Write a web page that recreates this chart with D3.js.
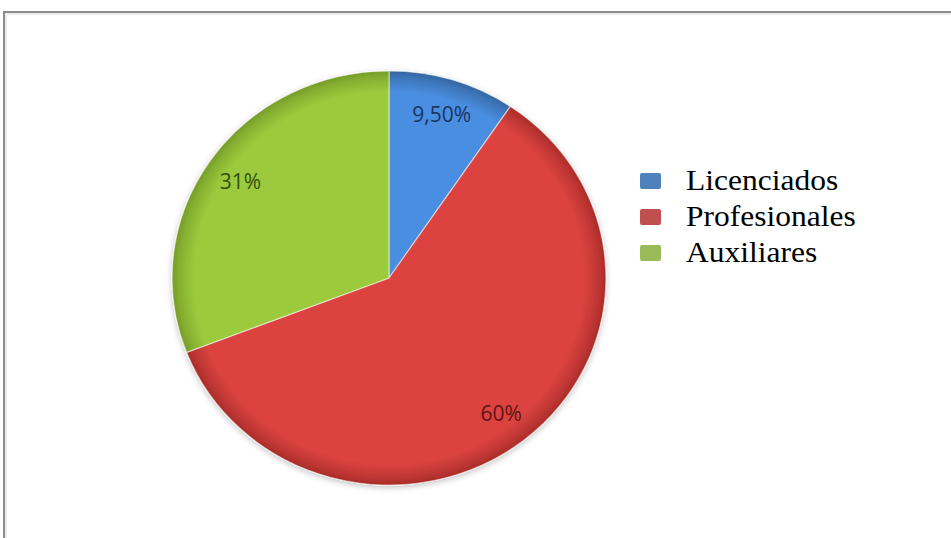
<!DOCTYPE html>
<html>
<head>
<meta charset="utf-8">
<script src="https://cdn.jsdelivr.net/npm/d3@7/dist/d3.min.js"></script>
<style>
  html, body { margin: 0; padding: 0; background: #fff; }
  svg { display: block; }
</style>
</head>
<body>
<svg id="chart" width="951" height="538"></svg>
<script>
// ---- data ----
const categories = ["Licenciados", "Profesionales", "Auxiliares"];
const values = [9.5, 60, 31];
const valueLabels = ["9,50%", "60%", "31%"];
const sliceColors = ["#4a8ee0", "#db4340", "#9bca3c"];
const sliceEdge = ["#35659f", "#a82b28", "#769c28"];
const legendColors = ["#4f81bd", "#c0504d", "#9bbb59"];
const labelColors = ["#1a3560", "#5e1614", "#34500f"];

const svg = d3.select("#chart");
const W = 951, H = 538;

// frame
svg.append("rect").attr("x", 4).attr("y", 12).attr("width", W + 10).attr("height", H + 10)
  .attr("fill", "#fff").attr("stroke", "#8c8c8c").attr("stroke-width", 2);
svg.append("rect").attr("x", 6).attr("y", 14).attr("width", W + 10).attr("height", H + 10)
  .attr("fill", "none").attr("stroke", "#ececec").attr("stroke-width", 2);

const cx = 389, cy = 278, R = 207, sx = 1.048;

const defs = svg.append("defs");
sliceColors.forEach((c, i) => {
  const g = defs.append("radialGradient").attr("id", "grad" + i)
    .attr("gradientUnits", "userSpaceOnUse").attr("cx", 0).attr("cy", 0).attr("r", R);
  g.append("stop").attr("offset", "0%").attr("stop-color", c);
  g.append("stop").attr("offset", "90%").attr("stop-color", c);
  g.append("stop").attr("offset", "97%").attr("stop-color", d3.interpolateRgb(c, sliceEdge[i])(0.6));
  g.append("stop").attr("offset", "100%").attr("stop-color", sliceEdge[i]);
});
const f = defs.append("filter").attr("id", "shadow").attr("x", "-20%").attr("y", "-20%").attr("width", "140%").attr("height", "140%");
f.append("feGaussianBlur").attr("in", "SourceAlpha").attr("stdDeviation", 3);
f.append("feOffset").attr("dx", 0).attr("dy", 2).attr("result", "b");
f.append("feComponentTransfer").append("feFuncA").attr("type", "linear").attr("slope", 0.25);
const fm = f.append("feMerge");
fm.append("feMergeNode");
fm.append("feMergeNode").attr("in", "SourceGraphic");

const pie = d3.pie().sort(null).value(d => d);
const arcs = pie(values);
const arc = d3.arc().innerRadius(0).outerRadius(R);
const labelArc = d3.arc().innerRadius(172).outerRadius(172);

const g = svg.append("g").attr("transform", `translate(${cx},${cy}) scale(${sx},1)`);
g.append("g").attr("filter", "url(#shadow)")
  .selectAll("path").data(arcs).enter().append("path")
  .attr("d", arc)
  .attr("fill", (d, i) => `url(#grad${i})`)
  .attr("stroke", "rgba(255,255,255,0.5)")
  .attr("stroke-width", 1.2)
  .attr("stroke-linejoin", "round");

// slice labels
svg.append("g").selectAll("text").data(arcs).enter().append("text")
  .attr("x", d => cx + labelArc.centroid(d)[0] * sx)
  .attr("y", d => cy + labelArc.centroid(d)[1])
  .attr("text-anchor", "middle")
  .attr("dominant-baseline", "central")
  .attr("font-family", "'Open Sans', 'DejaVu Sans', sans-serif")
  .attr("font-size", 21)
  .attr("fill", (d, i) => labelColors[i])
  .text((d, i) => valueLabels[i]);

// legend
const leg = svg.append("g");
const legY = d3.scaleLinear().domain([0, 1]).range([181, 217]);
categories.forEach((c, i) => {
  leg.append("rect").attr("x", 640).attr("y", legY(i) - 8).attr("width", 21).attr("height", 16)
    .attr("rx", 2).attr("fill", legendColors[i]);
  leg.append("text")
    .attr("transform", `translate(686,${legY(i) + 9}) scale(1.05,1)`)
    .attr("font-family", "'Liberation Serif', 'Times New Roman', serif")
    .attr("font-size", 30)
    .attr("fill", "#000")
    .text(c);
});
</script>
</body>
</html>
